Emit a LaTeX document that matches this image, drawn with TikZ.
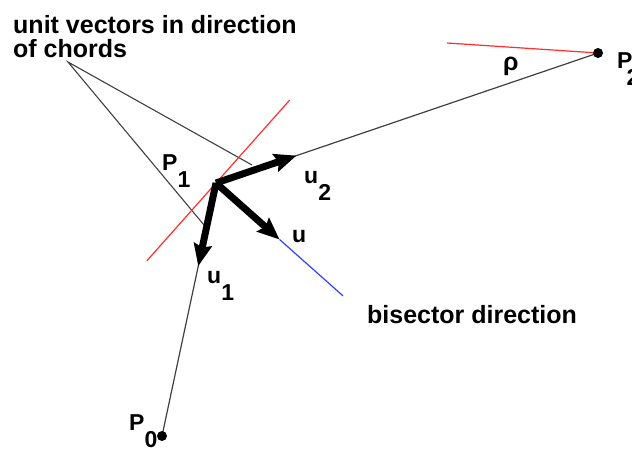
\documentclass[tikz,border=0pt]{standalone}
\usepackage{fontspec}
\setmainfont{Liberation Sans}
\usetikzlibrary{arrows.meta,calc}
\definecolor{chordgray}{gray}{0.25}
\definecolor{tanred}{RGB}{255,45,45}
\definecolor{bisblue}{RGB}{45,65,255}
\tikzset{
  chord/.style={draw=chordgray,line width=1.2pt},
  lead/.style={draw=chordgray,line width=1.1pt},
  tang/.style={draw=tanred,line width=1.2pt},
  unitv/.style={line width=7pt,
                -{Stealth[length=22pt,width=18pt,inset=3pt]}},
  lbl/.style={font=\fontsize{23}{23}\selectfont\bfseries,
              inner sep=0pt,anchor=base west},
  txt/.style={font=\fontsize{25}{24}\selectfont\bfseries,
              inner sep=0pt,align=left},
  ptdot/.style={circle,fill=black,inner sep=0pt,minimum size=10pt},
}
\newcommand\idx[2]{#1\raisebox{-17pt}{#2}}

\begin{document}
\begin{tikzpicture}[x=1pt, y=-1pt]
  \useasboundingbox (0,0) rectangle (632,451);
  % The corner P1 and the two chord ends.
  \coordinate (v) at (216,183);
  \coordinate (p0c) at (162,436);
  \coordinate (p2c) at (598,53);
  \coordinate (u1) at ($(v)!85pt!(p0c)$);
  \coordinate (u2) at ($(v)!85pt!(p2c)$);
  \coordinate (mid) at ($(u1)!0.5!(u2)$);
  \coordinate (u) at ($(v)!85pt!(mid)$);
  \coordinate (bend) at ($(v)!170pt!(mid)$);
  \coordinate (t1) at ($(v)!104pt!-90:(mid)$);
  \coordinate (t2) at ($(v)!111pt!90:(mid)$);
  \coordinate (r2) at (447,43);
  \draw[chord] (p0c) -- (v) -- (p2c);
  \draw[tang] (r2) -- (p2c);
  % The leader from the text to the two unit vectors.
  \node[txt, anchor=north west] (chords) at (13,15)
       {unit vectors in direction\\of chords};
  \coordinate (lead) at (68,62);
  \coordinate (c1) at (252,165);
  \coordinate (c2) at (204,225);
  \draw[lead] (c1) -- (lead) -- (c2);
  \draw[tang] (t1) -- (t2);
  \draw[bisblue, line width=1.2pt] (u) -- (bend);
  \draw[unitv] (v) -- (u1);
  \draw[unitv] (v) -- (u2);
  \draw[unitv] (v) -- (u);
  \node[ptdot] (p0) at (p0c) {};
  \node[ptdot] (p2) at (p2c) {};
  \node[lbl] (lp0) at (129,430) {\idx{P}{0}};
  \node[lbl] (lp1) at (162,170) {\idx{P}{1}};
  \node[lbl] (lp2) at (617,68) {P\kern-6pt\raisebox{-17pt}{2}};
  \node[lbl] (lu) at (292,242) {u};
  \node[lbl] (lu1) at (207,283) {\idx{u}{1}};
  \node[lbl] (lu2) at (304,183) {\idx{u}{2}};
  \node[lbl, font=\fontsize{25}{25}\selectfont\bfseries]
       (lrho) at (503,70) {ρ};
  \node[txt, anchor=base west] (bis) at (367,323) {bisector direction};
\end{tikzpicture}
\end{document}
